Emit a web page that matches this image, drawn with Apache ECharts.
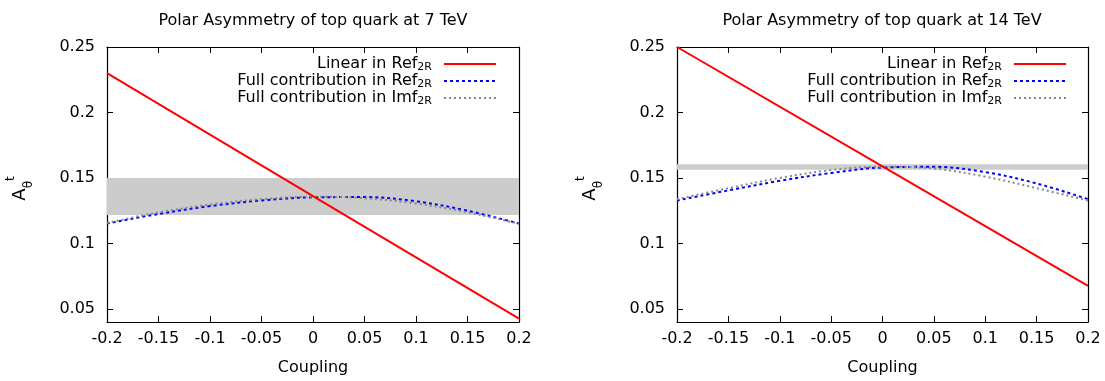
<!DOCTYPE html>
<html>
<head>
<meta charset="utf-8">
<script src="https://cdn.jsdelivr.net/npm/echarts@6/dist/echarts.min.js"></script>
<style>
html,body{margin:0;padding:0;background:#fff;}
#chart{width:1105px;height:381px;}
</style>
</head>
<body>
<div id="chart"></div>
<script>
// ---- data ----
const titles = ['Polar Asymmetry of top quark at 7 TeV', 'Polar Asymmetry of top quark at 14 TeV'];
const xTicks = [-0.2, -0.15, -0.1, -0.05, 0, 0.05, 0.1, 0.15, 0.2];
const yTicks = [0.05, 0.1, 0.15, 0.2, 0.25];
const legendNames = ['Linear in Ref', 'Full contribution in Ref', 'Full contribution in Imf'];
const legendSub = '2R';

const linearX = [-0.2, 0, 0.2];
const coupling = [-0.2, -0.15, -0.1, -0.05, 0, 0.05, 0.1, 0.15, 0.2];

// 7 TeV
const linear7 = [0.230, 0.1362, 0.0425];
const fullRe7 = [0.1152, 0.1225, 0.1285, 0.1328, 0.1352, 0.1354, 0.1322, 0.1250, 0.1152];
const fullIm7 = [0.1156, 0.1237, 0.1297, 0.1338, 0.1357, 0.1345, 0.1305, 0.1238, 0.1150];
const band7 = [0.1217, 0.1500];

// 14 TeV
const linear14 = [0.2500, 0.1588, 0.0676];
const fullRe14 = [0.1328, 0.1405, 0.1478, 0.1538, 0.1580, 0.1585, 0.1545, 0.1458, 0.1338];
const fullIm14 = [0.1338, 0.1422, 0.1500, 0.1560, 0.1586, 0.1572, 0.1510, 0.1422, 0.1328];
const band14 = [0.1563, 0.1605];

// ---- chart ----
const FONT = 'DejaVu Sans';
const FS = 16;
const fmt = v => String(Math.round(v * 100) / 100);
const pairs = (xs, ys) => xs.map((x, i) => [x, ys[i]]);

const grids = [
  {left: 107, top: 47, width: 412, height: 280},
  {left: 677, top: 47, width: 411, height: 280}
];

function xAxes(g) {
  const base = {
    type: 'value', gridIndex: g, min: -0.2, max: 0.2,
    axisLine: {show: true, onZero: false, lineStyle: {color: '#000', width: 1.2}},
    axisTick: {show: true, inside: true, length: 6, customValues: xTicks, lineStyle: {color: '#000', width: 1}},
    splitLine: {show: false}
  };
  return [
    Object.assign({}, base, {
      position: 'bottom',
      axisLabel: {customValues: xTicks, formatter: fmt, color: '#000', fontSize: FS, fontFamily: FONT, margin: 9},
      name: 'Coupling', nameLocation: 'middle', nameGap: 38,
      nameTextStyle: {color: '#000', fontSize: FS, fontFamily: FONT}
    }),
    Object.assign({}, base, {position: 'top', axisLabel: {show: false}})
  ];
}
function yAxes(g) {
  const base = {
    type: 'value', gridIndex: g, min: 0.04, max: 0.25,
    axisLine: {show: true, onZero: false, lineStyle: {color: '#000', width: 1.2}},
    axisTick: {show: true, inside: true, length: 6, customValues: yTicks, lineStyle: {color: '#000', width: 1}},
    splitLine: {show: false}
  };
  return [
    Object.assign({}, base, {
      position: 'left',
      axisLabel: {customValues: yTicks, formatter: fmt, color: '#000', fontSize: FS, fontFamily: FONT, margin: 12},
      name: '{a|A}{s|θ}{p|t}', nameLocation: 'middle', nameRotate: 90, nameGap: 72,
      nameTextStyle: {
        color: '#000', fontFamily: FONT,
        rich: {
          a: {fontSize: 18, fontFamily: FONT, color: '#000', lineHeight: 30, verticalAlign: 'middle'},
          s: {fontSize: 12, fontFamily: FONT, color: '#000', lineHeight: 12, verticalAlign: 'bottom'},
          p: {fontSize: 12, fontFamily: FONT, color: '#000', lineHeight: 12, verticalAlign: 'top', padding: [0, 8, 0, 0]}
        }
      }
    }),
    Object.assign({}, base, {position: 'right', axisLabel: {show: false}})
  ];
}

function seriesFor(g, lin, re, im, band) {
  const xi = g * 2, yi = g * 2;
  return [
    {
      name: legendNames[0] + legendSub, type: 'line', xAxisIndex: xi, yAxisIndex: yi,
      data: pairs(linearX, lin), showSymbol: false, symbol: 'none',
      lineStyle: {color: '#ff0000', width: 2}, itemStyle: {color: '#ff0000'}, z: 4,
      markArea: {
        silent: true, itemStyle: {color: '#cccccc', opacity: 1},
        data: [[{yAxis: band[0]}, {yAxis: band[1]}]]
      }
    },
    {
      name: legendNames[1] + legendSub, type: 'line', xAxisIndex: xi, yAxisIndex: yi,
      data: pairs(coupling, re), smooth: 0.35, showSymbol: false, symbol: 'none',
      lineStyle: {color: '#0000ff', width: 2, type: [3, 3]}, itemStyle: {color: '#0000ff'}, z: 3
    },
    {
      name: legendNames[2] + legendSub, type: 'line', xAxisIndex: xi, yAxisIndex: yi,
      data: pairs(coupling, im), smooth: 0.35, showSymbol: false, symbol: 'none',
      lineStyle: {color: '#888888', width: 2, type: [2, 3]}, itemStyle: {color: '#888888'}, z: 3
    }
  ];
}

function legendFor(rightPx) {
  return {
    orient: 'vertical', right: rightPx, top: 56, align: 'right',
    itemWidth: 52, itemHeight: 14, itemGap: 0, padding: 0, selectedMode: false,
    itemStyle: {opacity: 0, borderWidth: 0},
    data: legendNames.map(n => n + legendSub),
    formatter: name => '{n|' + name.slice(0, -legendSub.length) + '}{s|' + legendSub + '}',
    textStyle: {
      color: '#000', fontFamily: FONT, fontSize: FS,
      rich: {
        n: {fontSize: FS, fontFamily: FONT, color: '#000', lineHeight: 18},
        s: {fontSize: 11, fontFamily: FONT, color: '#000', lineHeight: 11, verticalAlign: 'bottom', padding: [0, 7, 0, 0]}
      }
    }
  };
}

const chart = echarts.init(document.getElementById('chart'), null, {renderer: 'canvas'});
chart.setOption({
  animation: false,
  backgroundColor: '#fff',
  grid: grids,
  xAxis: [].concat(xAxes(0), xAxes(1)),
  yAxis: [].concat(yAxes(0), yAxes(1)),
  legend: [legendFor(1105 - 497), legendFor(1105 - 1067)],
  graphic: [
    {type: 'text', x: 313, y: 21, style: {text: titles[0], fill: '#000', font: '16px "DejaVu Sans"', textAlign: 'center', textVerticalAlign: 'middle'}},
    {type: 'text', x: 882, y: 21, style: {text: titles[1], fill: '#000', font: '16px "DejaVu Sans"', textAlign: 'center', textVerticalAlign: 'middle'}}
  ],
  series: [].concat(
    seriesFor(0, linear7, fullRe7, fullIm7, band7),
    seriesFor(1, linear14, fullRe14, fullIm14, band14)
  )
});
</script>
</body>
</html>
